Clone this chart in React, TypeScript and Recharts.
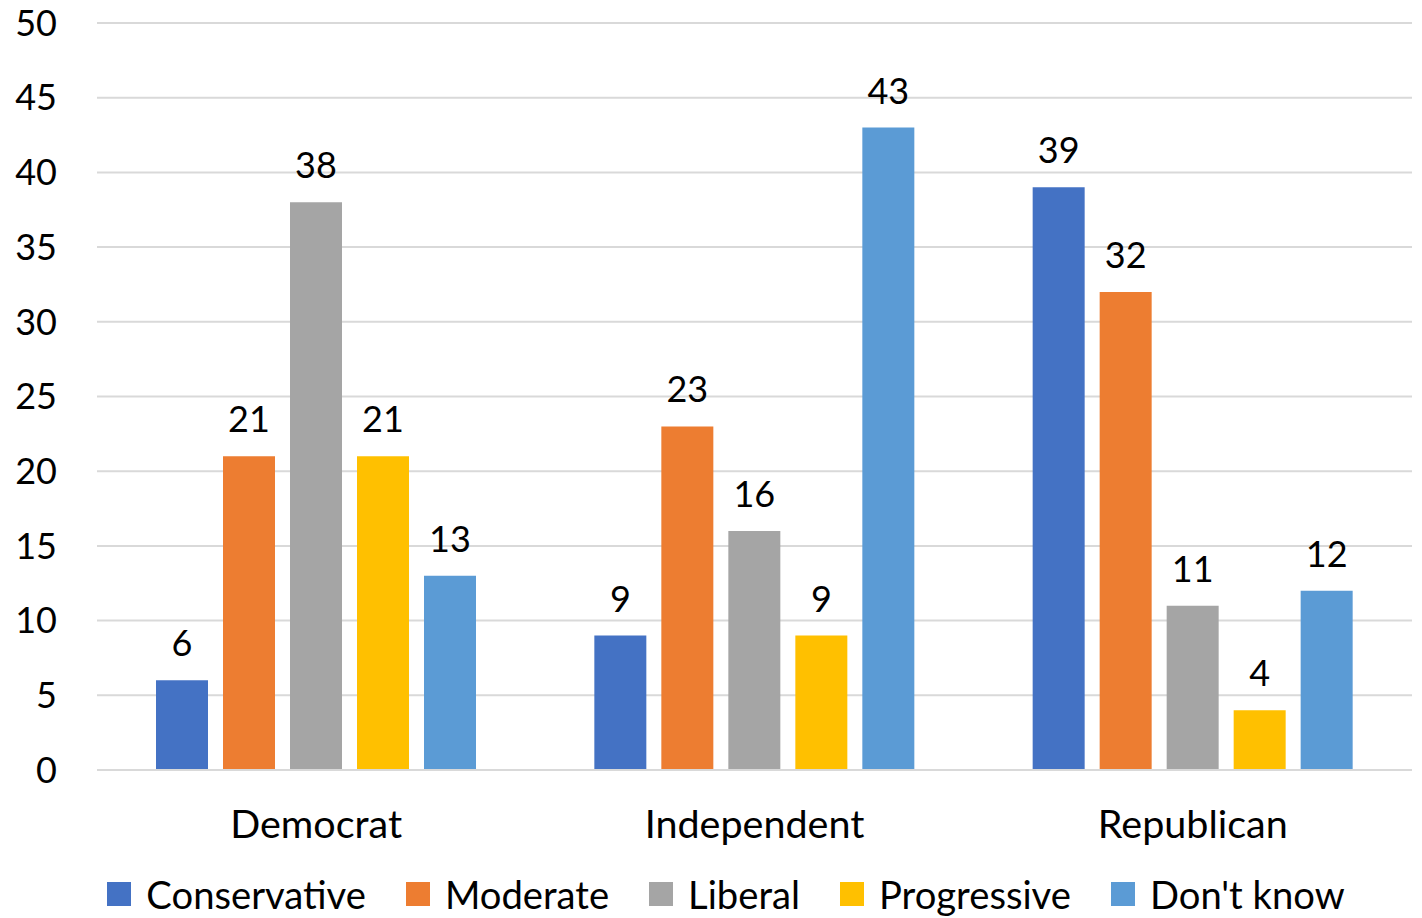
import { BarChart, Bar, XAxis, YAxis, CartesianGrid, Legend, LabelList } from "recharts";

const parties = ["Democrat", "Independent", "Republican"];
const conservative = [6, 9, 39];
const moderate = [21, 23, 32];
const liberal = [38, 16, 11];
const progressive = [21, 9, 4];
const dontKnow = [13, 43, 12];
const yTicks = [0, 5, 10, 15, 20, 25, 30, 35, 40, 45, 50];

const series = [
  { key: "conservative", name: "Conservative", color: "#4472C4", values: conservative },
  { key: "moderate", name: "Moderate", color: "#ED7D31", values: moderate },
  { key: "liberal", name: "Liberal", color: "#A5A5A5", values: liberal },
  { key: "progressive", name: "Progressive", color: "#FFC000", values: progressive },
  { key: "dontKnow", name: "Don't know", color: "#5B9BD5", values: dontKnow },
];

const data = parties.map((party, i) => {
  const row: any = { party };
  series.forEach((s) => (row[s.key] = s.values[i]));
  return row;
});

const FONT = "Lato, 'Open Sans', sans-serif";

function LegendRow() {
  return (
    <div
      style={{
        display: "flex",
        justifyContent: "center",
        gap: 40,
        paddingLeft: 40,
        paddingTop: 22,
        fontFamily: FONT,
        fontSize: 38.2,
        color: "#000",
        lineHeight: "40px",
      }}
    >
      {series.map((s) => (
        <div key={s.key} style={{ display: "flex", alignItems: "center" }}>
          <span
            style={{
              display: "inline-block",
              width: 24,
              height: 24,
              background: s.color,
              marginRight: 15,
            }}
          />
          <span>{s.name}</span>
        </div>
      ))}
    </div>
  );
}

export default function App() {
  return (
    <div style={{ position: "absolute", left: 0, top: 0, background: "#fff" }}>
      <BarChart
        width={1422}
        height={918}
        data={data}
        margin={{ top: 23, right: 10, left: 0, bottom: 0 }}
        barCategoryGap="13.6%"
        barGap={15}
      >
        <CartesianGrid vertical={false} stroke="#d9d9d9" strokeWidth={2} />
        <XAxis
          dataKey="party"
          height={82}
          tickLine={false}
          tickSize={0}
          tickMargin={40}
          axisLine={{ stroke: "#d9d9d9", strokeWidth: 2 }}
          tick={{ fontSize: 39.5, fill: "#000", fontFamily: FONT }}
        />
        <YAxis
          width={97}
          domain={[0, 50]}
          ticks={yTicks}
          axisLine={false}
          tickLine={false}
          tickSize={0}
          tickMargin={40}
          interval={0}
          tick={{ fontSize: 36, fill: "#000", fontFamily: FONT }}
        />
        <Legend verticalAlign="bottom" height={66} content={() => <LegendRow />} />
        {series.map((s) => (
          <Bar key={s.key} dataKey={s.key} name={s.name} fill={s.color} barSize={52} isAnimationActive={false}>
            <LabelList
              dataKey={s.key}
              position="top"
              offset={24}
              style={{ fontSize: 36, fill: "#000", fontFamily: FONT }}
            />
          </Bar>
        ))}
      </BarChart>
    </div>
  );
}
